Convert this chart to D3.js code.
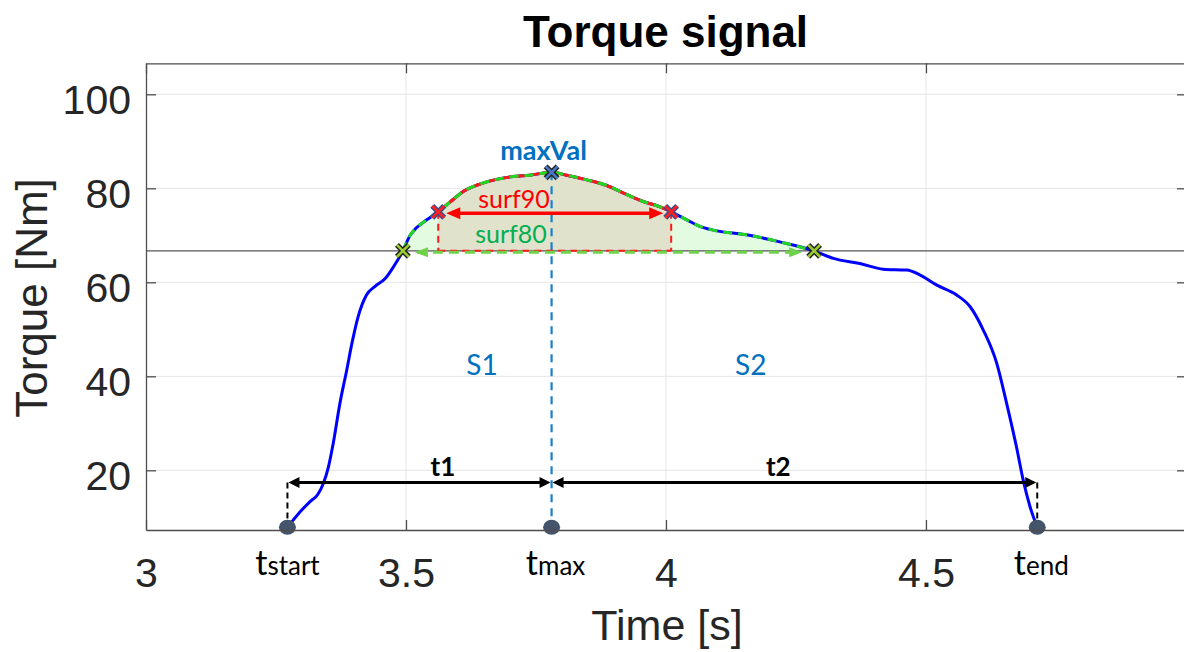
<!DOCTYPE html>
<html>
<head>
<meta charset="utf-8">
<script src="https://cdn.jsdelivr.net/npm/d3@7"></script>
<style>
  body { margin: 0; background: #fff; }
  svg { display: block; }
</style>
</head>
<body>
<div id="chart"></div>
<script>
// Curve samples
const timeS = [3.272, 3.283, 3.300, 3.315, 3.330, 3.341, 3.351, 3.360, 3.373, 3.386,
  3.396, 3.408, 3.424, 3.440, 3.460, 3.476, 3.494, 3.508, 3.520, 3.540,
  3.562, 3.585, 3.610, 3.642, 3.674, 3.706, 3.738, 3.780, 3.809, 3.848,
  3.886, 3.924, 3.956, 3.985, 4.010, 4.040, 4.065, 4.091, 4.155, 4.219,
  4.285, 4.322, 4.373, 4.418, 4.463, 4.488, 4.521, 4.559, 4.585, 4.610,
  4.636, 4.655, 4.674, 4.687, 4.700, 4.714];
const torqueNm = [7.9, 9.4, 11.6, 13.3, 14.8, 17.2, 20.8, 25.7, 34.3, 41.3,
  47.0, 52.7, 57.3, 59.1, 60.8, 63.3, 66.7, 70.0, 71.6, 73.3,
  75.0, 77.1, 79.3, 80.9, 81.9, 82.5, 82.8, 83.4, 82.8, 81.8,
  80.6, 78.7, 77.2, 76.2, 75.0, 73.3, 71.9, 71.1, 70.1, 68.6,
  66.7, 65.1, 64.0, 62.8, 62.6, 61.6, 59.4, 57.3, 54.8, 49.9,
  42.8, 34.3, 25.0, 17.9, 12.3, 7.9];

const xTicks = [3, 3.5, 4, 4.5];
const yTicks = [20, 40, 60, 80, 100];

const tStart = 3.272, tMax = 3.780, tEnd = 4.714;
const maxVal = 83.4;
const surf90Level = 75.0, surf80Level = 66.7;
const surf90T = [3.562, 4.010];
const surf80T = [3.494, 4.285];
const arrowLevel = 17.4, dotLevel = 7.9;
const eventNames = ["start", "max", "end"];
const eventTimes = [tStart, tMax, tEnd];
const regionNames = ["S1", "S2"];
const regionTimes = [3.646, 4.163];
const regionLevel = 40.3;
const spanNames = ["t1", "t2"];
const spanLabelTimes = [3.571, 4.216];

const W = 1184, H = 652;
const mLeft = 146, mRight = 1187, mTop = 63.3, mBottom = 530;

const svg = d3.select("#chart").append("svg")
  .attr("width", W).attr("height", H)
  .attr("font-family", "'Liberation Sans', Arial, sans-serif");

const x = d3.scaleLinear().domain([3, 5.002]).range([mLeft, mRight]);
const y = d3.scaleLinear().domain([7.3, 106.6]).range([mBottom, mTop]);

const data = timeS.map((t, i) => ({t: t, v: torqueNm[i]}));

// grid
svg.append("g").selectAll("line").data(xTicks.slice(1)).join("line")
  .attr("x1", d => x(d)).attr("x2", d => x(d))
  .attr("y1", mTop).attr("y2", mBottom)
  .attr("stroke", "#e6e6e6").attr("stroke-width", 1);
svg.append("g").selectAll("line").data(yTicks).join("line")
  .attr("x1", mLeft).attr("x2", mRight)
  .attr("y1", d => y(d)).attr("y2", d => y(d))
  .attr("stroke", "#e6e6e6").attr("stroke-width", 1);

// shaded surfaces
const inRange = r => data.filter(d => d.t >= r[0] - 1e-9 && d.t <= r[1] + 1e-9);
const area = d3.area().x(d => x(d.t)).y0(y(surf80Level)).y1(d => y(d.v))
  .curve(d3.curveMonotoneX);
svg.append("path").datum(inRange(surf80T)).attr("d", area)
  .attr("fill", "#e3fbe0");
svg.append("path").datum(inRange(surf90T)).attr("d", area)
  .attr("fill", "#e1e2cc");

// 80% threshold line
svg.append("line")
  .attr("x1", mLeft).attr("x2", mRight)
  .attr("y1", y(surf80Level)).attr("y2", y(surf80Level))
  .attr("stroke", "#555").attr("stroke-width", 1.3);

// tmax dashed line
svg.append("line")
  .attr("x1", x(tMax)).attr("x2", x(tMax))
  .attr("y1", y(maxVal)).attr("y2", y(dotLevel))
  .attr("stroke", "#1a7fcc").attr("stroke-width", 2.2)
  .attr("stroke-dasharray", "8,6");

// the signal
const line = d3.line().x(d => x(d.t)).y(d => y(d.v)).curve(d3.curveMonotoneX);
svg.append("path").datum(data).attr("d", line)
  .attr("fill", "none").attr("stroke", "#0000ff").attr("stroke-width", 3);
svg.append("path").datum(inRange(surf90T)).attr("d", line)
  .attr("fill", "none").attr("stroke", "#ff1a1a").attr("stroke-width", 3);
svg.append("path").datum(inRange(surf80T)).attr("d", line)
  .attr("fill", "none").attr("stroke", "#22d622").attr("stroke-width", 3)
  .attr("stroke-dasharray", "9,6");

// surf90 dashed verticals and base
surf90T.forEach(t => {
  svg.append("line")
    .attr("x1", x(t)).attr("x2", x(t))
    .attr("y1", y(surf90Level)).attr("y2", y(surf80Level))
    .attr("stroke", "#ff1a1a").attr("stroke-width", 2)
    .attr("stroke-dasharray", "7,5");
});
svg.append("line")
  .attr("x1", x(surf90T[0])).attr("x2", x(surf90T[1]))
  .attr("y1", y(surf80Level)).attr("y2", y(surf80Level))
  .attr("stroke", "#ff1a1a").attr("stroke-width", 2)
  .attr("stroke-dasharray", "7,5");

function arrowHead(xt, yt, dir, len, half, color) {
  svg.append("path")
    .attr("d", `M${xt},${yt}L${xt - dir * len},${yt - half}L${xt - dir * len},${yt + half}Z`)
    .attr("fill", color);
}

// surf80 arrow (dashed)
const g80 = y(surf80Level) + 1.5;
svg.append("line")
  .attr("x1", x(surf80T[0]) + 14).attr("x2", x(surf80T[1]) - 14)
  .attr("y1", g80).attr("y2", g80)
  .attr("stroke", "#6fd24a").attr("stroke-width", 3)
  .attr("stroke-dasharray", "10,6");
arrowHead(x(surf80T[0]) + 12, g80, -1, 13, 5, "#6fd24a");
arrowHead(x(surf80T[1]) - 12, g80, 1, 13, 5, "#6fd24a");

// surf90 arrow
const r90 = y(surf90Level) + 1.5;
svg.append("line")
  .attr("x1", x(surf90T[0]) + 14).attr("x2", x(surf90T[1]) - 14)
  .attr("y1", r90).attr("y2", r90)
  .attr("stroke", "#ff0000").attr("stroke-width", 3.5);
arrowHead(x(surf90T[0]) + 8, r90, -1, 14, 6, "#ff0000");
arrowHead(x(surf90T[1]) - 8, r90, 1, 14, 6, "#ff0000");

// t1 / t2 arrows
const ay = y(arrowLevel);
[[tStart, tMax], [tMax, tEnd]].forEach(p => {
  svg.append("line")
    .attr("x1", x(p[0]) + 8).attr("x2", x(p[1]) - 8)
    .attr("y1", ay).attr("y2", ay)
    .attr("stroke", "#000").attr("stroke-width", 3);
  arrowHead(x(p[0]) + 1, ay, -1, 11, 5.5, "#000");
  arrowHead(x(p[1]) - 1, ay, 1, 11, 5.5, "#000");
});
[tStart, tEnd].forEach(t => {
  svg.append("line")
    .attr("x1", x(t)).attr("x2", x(t))
    .attr("y1", ay).attr("y2", y(dotLevel) - 6)
    .attr("stroke", "#000").attr("stroke-width", 2)
    .attr("stroke-dasharray", "6,4");
});

// event dots
svg.append("g").selectAll("ellipse").data(eventTimes).join("ellipse")
  .attr("cx", d => x(d)).attr("cy", y(dotLevel))
  .attr("rx", 8.5).attr("ry", 7.5)
  .attr("fill", "#44546a");

// x markers
const cross = d3.symbol(d3.symbolTimes, 95);
function marker(t, v, fillC, edgeC) {
  const gm = svg.append("g").attr("transform", `translate(${x(t)},${y(v)})`);
  gm.append("path").attr("d", cross()).attr("fill", "none")
    .attr("stroke", edgeC).attr("stroke-width", 5.5);
  gm.append("path").attr("d", cross()).attr("fill", "none")
    .attr("stroke", fillC).attr("stroke-width", 2.6);
}
surf80T.forEach(t => marker(t, surf80Level, "#9acd32", "#222"));
surf90T.forEach(t => marker(t, surf90Level, "#ff2020", "#3c4a8c"));
marker(tMax, maxVal, "#4a78c8", "#222");

// axes
const axisColor = "#262626";
function styleAxis(g) {
  g.select(".domain").attr("stroke", "#4d4d4d").attr("stroke-width", 1.3);
  g.selectAll(".tick line").attr("stroke", "#4d4d4d").attr("stroke-width", 1.3);
  g.selectAll(".tick text").attr("fill", axisColor)
    .attr("font-size", 41).attr("font-family", "'Liberation Sans', Arial, sans-serif");
}
svg.append("g").attr("transform", `translate(0,${mBottom})`)
  .call(d3.axisBottom(x).tickValues(xTicks).tickSize(-10).tickSizeOuter(0).tickFormat(d3.format("")))
  .call(styleAxis)
  .call(g => g.selectAll(".tick text").attr("y", 57).attr("dy", null));
svg.append("g").attr("transform", `translate(0,${mTop})`)
  .call(d3.axisTop(x).tickValues(xTicks).tickSize(-10).tickSizeOuter(0).tickFormat(""))
  .call(styleAxis);
svg.append("g").attr("transform", `translate(${mLeft},0)`)
  .call(d3.axisLeft(y).tickValues(yTicks).tickSize(-10).tickSizeOuter(0))
  .call(styleAxis)
  .call(g => g.selectAll(".tick text").attr("x", -15).attr("dy", null).attr("y", 19));
svg.append("g").attr("transform", `translate(${mRight},0)`)
  .call(d3.axisRight(y).tickValues(yTicks).tickSize(-10).tickSizeOuter(0).tickFormat(""))
  .call(styleAxis);

// titles
svg.append("text")
  .attr("x", (mLeft + mRight) / 2 - 1).attr("y", 46.5)
  .attr("text-anchor", "middle").attr("font-size", 44).attr("font-weight", "bold")
  .attr("fill", "#000").text("Torque signal");
svg.append("text")
  .attr("x", 667).attr("y", 640)
  .attr("text-anchor", "middle").attr("font-size", 43)
  .attr("fill", axisColor).text("Time [s]");
svg.append("text")
  .attr("transform", "translate(47,298) rotate(-90)")
  .attr("text-anchor", "middle").attr("font-size", 44)
  .attr("fill", axisColor).text("Torque [Nm]");

// annotations
const ann = svg.append("g").attr("font-family", "Lato, 'Open Sans', sans-serif");
ann.append("text").attr("x", x(tMax) - 8).attr("y", y(maxVal) - 12)
  .attr("text-anchor", "middle").attr("font-size", 27).attr("font-weight", "bold")
  .attr("fill", "#0070c0").text("maxVal");
ann.append("text").attr("x", 514).attr("y", 208)
  .attr("text-anchor", "middle").attr("font-size", 25)
  .attr("fill", "#ff0000").text("surf90");
ann.append("text").attr("x", 511).attr("y", 243)
  .attr("text-anchor", "middle").attr("font-size", 25)
  .attr("fill", "#00b050").text("surf80");

ann.selectAll(".region").data(regionNames).join("text")
  .attr("class", "region")
  .attr("x", (d, i) => x(regionTimes[i])).attr("y", y(regionLevel))
  .attr("text-anchor", "middle").attr("font-size", 28)
  .attr("fill", "#0070c0").text(d => d);

ann.selectAll(".span").data(spanNames).join("text")
  .attr("class", "span")
  .attr("x", (d, i) => x(spanLabelTimes[i])).attr("y", ay - 7)
  .attr("text-anchor", "middle").attr("font-size", 26).attr("font-weight", "bold")
  .attr("fill", "#000").text(d => d);

const evLab = ann.selectAll(".ev").data(eventNames).join("text")
  .attr("class", "ev")
  .attr("x", (d, i) => x(eventTimes[i]) + (i === 0 ? 0 : 4))
  .attr("y", 575)
  .attr("text-anchor", "middle").attr("fill", "#000");
evLab.append("tspan").attr("font-size", 34).text("t");
evLab.append("tspan").attr("font-size", 26).text(d => d);
</script>
</body>
</html>
